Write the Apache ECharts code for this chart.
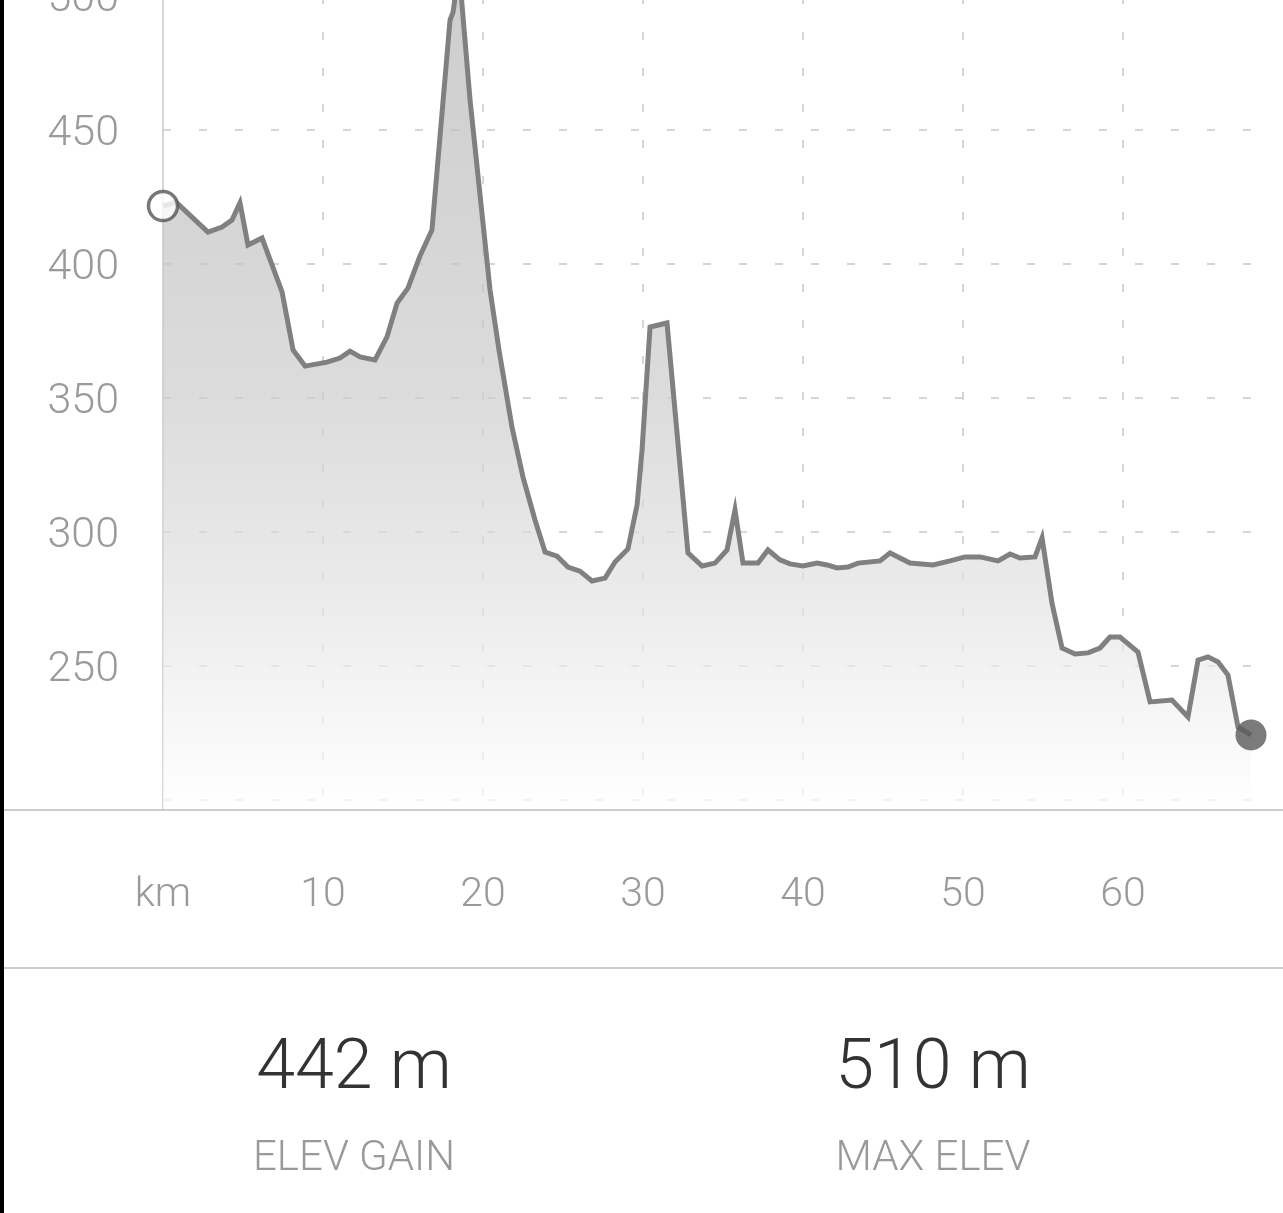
<!DOCTYPE html>
<html>
<head>
<meta charset="utf-8">
<script src="https://cdn.jsdelivr.net/npm/echarts@6/dist/echarts.min.js"></script>
<style>
  html, body { margin: 0; padding: 0; background: #fff; }
  #chart { width: 1283px; height: 1213px; }
</style>
</head>
<body>
<div id="chart"></div>
<script>
// ---- data ----
const distanceKm = [
  0, 0.81, 2.81, 3.69, 4.31, 4.81, 5.31, 6.19, 7.44, 8.13, 8.88, 10.25, 11.06, 11.69, 12.31, 13.25,
  14.0, 14.63, 15.31, 16.06, 16.81, 17.94, 18.13, 18.5, 19.19, 20.44, 21.0, 21.81, 22.5, 23.25, 23.88,
  24.63, 25.31, 26.06, 26.81, 27.63, 28.25, 29.06, 29.63, 29.94, 30.44, 31.5, 32.31, 32.81, 33.69,
  34.5, 35.25, 35.75, 36.25, 37.19, 37.81, 38.56, 39.19, 40.0, 40.88, 41.5, 42.13, 42.81, 43.44,
  44.81, 45.44, 46.69, 48.13, 49.19, 50.13, 51.06, 52.19, 52.94, 53.56, 54.5, 54.94, 55.56, 56.19,
  57.0, 57.81, 58.56, 59.19, 59.81, 60.94, 61.69, 63.06, 64.06, 64.69, 65.31, 65.94, 66.56, 67.19, 68.0
];
const elevationM = [
  421.6, 423.1, 411.9, 413.8, 416.4, 422.8, 407.1, 409.7, 389.6, 367.9, 361.9, 363.4, 364.9, 367.5, 365.3, 364.2,
  372.8, 385.4, 391.0, 403.0, 412.7, 491.0, 494.0, 510.0, 461.2, 390.3, 367.9, 339.2, 320.5, 304.5, 292.5,
  291.0, 286.9, 285.4, 281.7, 282.8, 288.8, 293.7, 310.1, 330.6, 376.5, 378.0, 325.0, 292.2, 287.3,
  288.4, 293.3, 308.2, 288.4, 288.4, 293.3, 289.6, 288.1, 287.3, 288.4, 287.7, 286.6, 286.9, 288.4,
  289.2, 292.2, 288.4, 287.7, 289.2, 290.7, 290.7, 289.2, 291.8, 290.3, 290.7, 297.8, 273.5, 256.7,
  254.5, 254.9, 256.7, 260.8, 260.8, 255.2, 236.6, 237.3, 231.0, 252.2, 253.4, 251.5, 246.6, 227.2, 224.3
];
const xUnitLabel = 'km';
const yLabelValues = [250, 300, 350, 400, 450, 500];
const statValues = ['442 m', '510 m'];
const statLabels = ['ELEV GAIN', 'MAX ELEV'];

// ---- chart ----
const FONT = 'Roboto, "Liberation Sans", sans-serif';
const linePoints = distanceKm.map((d, i) => [d, elevationM[i]]);
const firstPt = linePoints[0];
const lastPt = linePoints[linePoints.length - 1];

const chart = echarts.init(document.getElementById('chart'), null, { renderer: 'canvas' });

const statCenters = [354, 933];
const graphics = [
  { type: 'rect', shape: { x: 0, y: 0, width: 4, height: 1213 }, style: { fill: '#000' }, z: 100 },
  { type: 'line', shape: { x1: 4, y1: 810, x2: 1283, y2: 810 }, style: { stroke: '#cccccc', lineWidth: 2 }, z: 50 },
  { type: 'line', shape: { x1: 4, y1: 968, x2: 1283, y2: 968 }, style: { stroke: '#cccccc', lineWidth: 2 }, z: 50 }
];
statValues.forEach((v, i) => {
  graphics.push({
    type: 'text', x: statCenters[i], y: 1070,
    style: { text: v, fill: '#333333', font: '300 70px ' + FONT, textAlign: 'center', textVerticalAlign: 'middle' }
  });
  graphics.push({
    type: 'text', x: statCenters[i], y: 1159,
    style: { text: statLabels[i], fill: '#999999', font: '300 42px ' + FONT, textAlign: 'center', textVerticalAlign: 'middle' }
  });
});

const option = {
  animation: false,
  backgroundColor: '#ffffff',
  grid: { left: 163, right: 32, top: -4, bottom: 403, containLabel: false, outerBoundsMode: 'none' },
  xAxis: {
    type: 'value',
    min: 0, max: 68, interval: 10,
    axisLine: { show: false },
    axisTick: { show: false },
    axisLabel: {
      margin: 65,
      color: '#9a9a9a',
      fontSize: 41,
      fontWeight: 300,
      fontFamily: FONT,
      showMaxLabel: false,
      formatter: v => (v === 0 ? xUnitLabel : String(v))
    },
    splitLine: {
      show: true,
      showMinLine: false,
      showMaxLine: false,
      lineStyle: { color: '#d6d6d6', width: 2, type: [8, 28] }
    }
  },
  yAxis: {
    type: 'value',
    min: 196.27, max: 500,
    splitNumber: 5,
    axisLine: { show: true, lineStyle: { color: '#c8c8c8', width: 1.5 } },
    axisTick: { show: false },
    axisLabel: {
      margin: 44,
      color: '#9a9a9a',
      fontSize: 43,
      fontWeight: 300,
      fontFamily: FONT,
      showMinLabel: false,
      showMaxLabel: true,
      formatter: v => (yLabelValues.indexOf(Math.round(v * 1000) / 1000) >= 0 ? '{t|' + v + '}' : ''),
      rich: {
        t: {
          color: '#9a9a9a',
          fontSize: 43,
          fontWeight: 300,
          fontFamily: FONT,
          padding: [9, 0, 0, 0]
        }
      }
    },
    splitLine: {
      show: true,
      showMinLine: false,
      lineStyle: { color: '#d6d6d6', width: 2, type: [8, 28] }
    }
  },
  series: [
    {
      type: 'line',
      data: linePoints,
      showSymbol: false,
      symbol: 'none',
      lineStyle: { color: '#808080', width: 5, join: 'miter' },
      areaStyle: {
        origin: 'start',
        color: new echarts.graphic.LinearGradient(0, 0, 0, 1, [
          { offset: 0, color: '#b8b8b8' },
          { offset: 0.28, color: '#c2c2c2' },
          { offset: 0.51, color: '#cdcdcd' },
          { offset: 0.75, color: '#e3e3e3' },
          { offset: 1, color: '#ffffff' }
        ])
      },
      z: 2
    },
    {
      type: 'scatter',
      data: [firstPt],
      symbol: 'circle',
      symbolSize: 29,
      itemStyle: { color: '#ffffff', borderColor: '#555555', borderWidth: 3.5 },
      z: 5
    },
    {
      type: 'scatter',
      data: [lastPt],
      symbol: 'circle',
      symbolSize: 31,
      itemStyle: { color: '#5a5a5a' },
      z: 5
    }
  ],
  graphic: graphics
};
chart.setOption(option);
</script>
</body>
</html>
